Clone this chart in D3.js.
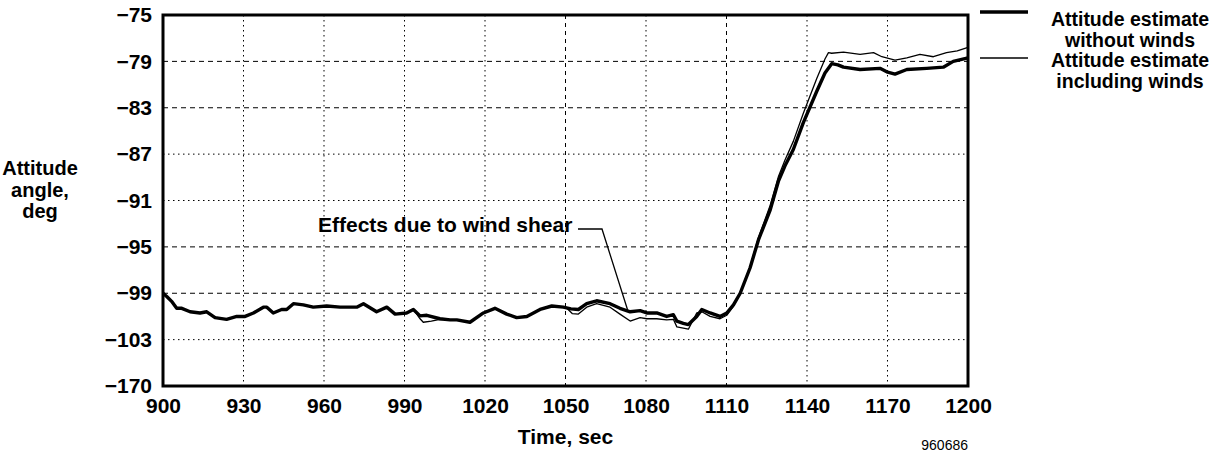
<!DOCTYPE html>
<html>
<head>
<meta charset="utf-8">
<script src="https://cdn.jsdelivr.net/npm/d3@7"></script>
<style>
  html, body { margin: 0; padding: 0; background: #fff; }
  svg { display: block; font-family: "Liberation Sans", Arial, Helvetica, sans-serif; }
</style>
</head>
<body>
<svg id="chart" width="1223" height="462"></svg>
<script>
// ---- Data ----
const xTicks = [900, 930, 960, 990, 1020, 1050, 1080, 1110, 1140, 1170, 1200];
const yTicks = [-75, -79, -83, -87, -91, -95, -99, -103, -107];
const yTickLabels = ["\u221275", "\u221279", "\u221283", "\u221287", "\u221291", "\u221295", "\u221299", "\u2212103", "\u2212170"];
const dashedY = [-79, -83, -95, -99];

const timeWithout = [900,901.5,903.2,905.1,907.0,910.1,913.8,916.3,919.4,923.7,927.5,930.6,933.7,937.4,938.7,941.1,944.2,946.1,948.6,952.3,956.0,961.0,966.0,972.2,974.7,979.6,983.4,986.5,990.8,993.3,995.8,998.3,1003.2,1007.0,1009.5,1014.4,1019.4,1023.7,1028.1,1031.8,1035.6,1040.5,1044.9,1049.2,1052,1054.8,1057.9,1061.6,1066.6,1070.3,1074.1,1077.8,1080.3,1084.0,1087.7,1090.2,1091.5,1093.9,1095.8,1098.9,1100.8,1103.9,1107.6,1110.1,1112.6,1115.1,1118.8,1121.9,1126.3,1129.4,1131.8,1134.9,1138.6,1143.6,1146.7,1149.2,1151.5,1153.6,1159.8,1167.2,1169.7,1172.8,1177.2,1184.6,1190.8,1194.5,1200];
const attitudeWithout = [-99.0,-99.3,-99.7,-100.3,-100.3,-100.6,-100.7,-100.6,-101.1,-101.25,-101.0,-101.0,-100.7,-100.2,-100.2,-100.7,-100.4,-100.4,-99.9,-100.0,-100.2,-100.1,-100.2,-100.2,-99.9,-100.6,-100.2,-100.8,-100.7,-100.4,-100.95,-100.9,-101.2,-101.3,-101.3,-101.5,-100.7,-100.3,-100.8,-101.1,-101.0,-100.4,-100.1,-100.2,-100.35,-100.4,-99.9,-99.65,-99.9,-100.3,-100.6,-100.5,-100.7,-100.7,-101.0,-100.85,-101.4,-101.6,-101.7,-101.0,-100.4,-100.7,-101.0,-100.7,-100.0,-99.0,-96.8,-94.4,-91.8,-89.3,-88.0,-86.6,-84.3,-81.6,-80.0,-79.2,-79.3,-79.5,-79.7,-79.6,-79.9,-80.1,-79.7,-79.6,-79.5,-79.0,-78.7];

const timeIncluding = [900,901.5,903.2,905.1,907.0,910.1,913.8,916.3,919.4,923.7,927.5,930.6,933.7,937.4,938.7,941.1,944.2,946.1,948.6,952.3,956.0,961.0,966.0,972.2,974.7,979.6,983.4,986.5,990.8,993.3,995.8,997.0,1000.0,1003.2,1007.0,1009.5,1014.4,1019.4,1023.7,1028.1,1031.8,1035.6,1040.5,1044.9,1049.2,1050.5,1052.5,1054.8,1057.9,1061.6,1066.6,1070.3,1074.1,1077.8,1080.3,1084.0,1087.7,1090.2,1091.5,1093.9,1095.8,1098.9,1100.8,1103.9,1107.6,1110.1,1112.6,1115.1,1118.8,1121.9,1126.3,1129.4,1131.8,1134.9,1138.6,1143.6,1146.7,1148.0,1149.2,1153.6,1159.8,1164.8,1167.9,1172.8,1177.2,1182.1,1187.1,1192.0,1196.0,1200];
const attitudeIncluding = [-99.0,-99.3,-99.7,-100.3,-100.3,-100.6,-100.7,-100.6,-101.1,-101.25,-101.0,-101.0,-100.7,-100.2,-100.2,-100.7,-100.4,-100.4,-99.9,-100.0,-100.2,-100.1,-100.2,-100.2,-99.9,-100.6,-100.2,-100.8,-100.7,-100.4,-101.2,-101.5,-101.4,-101.25,-101.3,-101.3,-101.5,-100.7,-100.3,-100.8,-101.1,-101.0,-100.4,-100.1,-100.2,-100.3,-100.75,-100.8,-100.2,-99.9,-100.2,-100.8,-101.4,-101.1,-101.2,-101.2,-101.3,-101.25,-101.9,-102.0,-102.1,-100.7,-100.6,-101.0,-101.2,-100.9,-100.1,-99.0,-96.7,-94.2,-91.4,-88.9,-87.5,-85.9,-83.5,-80.5,-78.8,-78.25,-78.3,-78.2,-78.4,-78.25,-78.6,-78.9,-78.7,-78.4,-78.6,-78.25,-78.1,-77.8];

const legendLabels = [["Attitude estimate", "without winds"], ["Attitude estimate", "including winds"]];
const yTitle = ["Attitude", "angle,", "deg"];
const xTitle = "Time, sec";
const annotation = "Effects due to wind shear";
const figureId = "960686";

// ---- Layout ----
const svg = d3.select("#chart");
const mLeft = 163, mRight = 968, mTop = 15, mBottom = 386;

const x = d3.scaleLinear().domain([900, 1200]).range([mLeft, mRight]);
const y = d3.scaleLinear().domain([-107, -75]).range([mBottom, mTop]);

// Grid
const grid = svg.append("g");
grid.selectAll("line.h").data(yTicks.slice(1, -1)).enter().append("line")
  .attr("x1", mLeft).attr("x2", mRight)
  .attr("y1", d => y(d)).attr("y2", d => y(d))
  .attr("stroke", "#000").attr("stroke-width", 1)
  .attr("stroke-dasharray", d => dashedY.includes(d) ? "5,4" : "1.5,3.5");
grid.selectAll("line.v").data(xTicks.slice(1, -1)).enter().append("line")
  .attr("x1", d => x(d)).attr("x2", d => x(d))
  .attr("y1", mTop).attr("y2", mBottom)
  .attr("stroke", "#000").attr("stroke-width", 1)
  .attr("stroke-dasharray", d => (d === 1110 || d === 1050) ? "4,4" : "1.5,3.5");

// Axes (labels only, via d3 axes)
const xAxis = d3.axisBottom(x).tickValues(xTicks).tickSize(0).tickPadding(12).tickFormat(d3.format("d"));
const gx = svg.append("g").attr("transform", `translate(0,${mBottom})`).call(xAxis);
gx.select(".domain").remove();
gx.selectAll("text").attr("font-size", 21).attr("font-weight", "bold").attr("fill", "#000")
  .attr("font-family", "Liberation Sans, Arial, sans-serif");

const yAxis = d3.axisLeft(y).tickValues(yTicks).tickSize(0).tickPadding(11)
  .tickFormat((d, i) => yTickLabels[i]);
const gy = svg.append("g").attr("transform", `translate(${mLeft},0)`).call(yAxis);
gy.select(".domain").remove();
gy.selectAll("text").attr("font-size", 21).attr("font-weight", "bold").attr("fill", "#000")
  .attr("font-family", "Liberation Sans, Arial, sans-serif");

// Lines
const lineGen = d3.line().x(d => x(d[0])).y(d => y(d[1]));
const seriesWithout = timeWithout.map((t, i) => [t, attitudeWithout[i]]);
const seriesIncluding = timeIncluding.map((t, i) => [t, attitudeIncluding[i]]);

svg.append("path").datum(seriesIncluding).attr("d", lineGen)
  .attr("fill", "none").attr("stroke", "#000").attr("stroke-width", 1.3).attr("stroke-linejoin", "round");
svg.append("path").datum(seriesWithout).attr("d", lineGen)
  .attr("fill", "none").attr("stroke", "#000").attr("stroke-width", 3.4).attr("stroke-linejoin", "round");

// Frame
svg.append("rect").attr("x", mLeft).attr("y", mTop).attr("width", mRight - mLeft).attr("height", mBottom - mTop)
  .attr("fill", "none").attr("stroke", "#000").attr("stroke-width", 3);

// Annotation
svg.append("text").attr("x", 318).attr("y", 232).text(annotation)
  .attr("font-size", 21).attr("font-weight", "bold");
svg.append("path")
  .attr("d", `M${578},${229} L${x(1063.6)},${229} L${x(1073.3)},${y(-100.55)}`)
  .attr("fill", "none").attr("stroke", "#000").attr("stroke-width", 1.3);

// Y title
svg.append("text").attr("text-anchor", "middle").attr("font-size", 20).attr("font-weight", "bold")
  .selectAll("tspan").data(yTitle).enter().append("tspan")
  .attr("x", 40).attr("y", (d, i) => 175 + i * 21.5).text(d => d);

// X title
svg.append("text").attr("x", (mLeft + mRight) / 2).attr("y", 444).attr("text-anchor", "middle")
  .attr("font-size", 21).attr("font-weight", "bold").text(xTitle);

// Figure id
svg.append("text").attr("x", 968).attr("y", 450).attr("text-anchor", "end")
  .attr("font-size", 14).text(figureId);

// Legend
const legendY = [12, 58];
const legendW = [3.4, 1.3];
legendLabels.forEach((lbl, i) => {
  svg.append("line").attr("x1", 980).attr("x2", 1028).attr("y1", legendY[i]).attr("y2", legendY[i])
    .attr("stroke", "#000").attr("stroke-width", legendW[i]);
  svg.append("text").attr("text-anchor", "middle").attr("font-size", 19.5).attr("font-weight", "bold")
    .selectAll("tspan").data(lbl).enter().append("tspan")
    .attr("x", 1130).attr("y", (d, j) => (i === 0 ? 26 : 67) + j * 21).text(d => d);
});
</script>
</body>
</html>
